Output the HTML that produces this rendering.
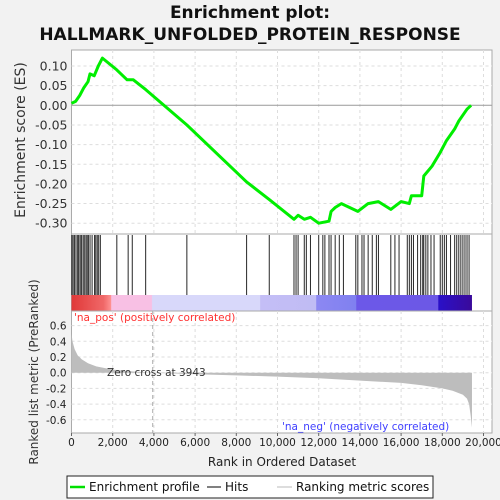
<!DOCTYPE html>
<html><head><meta charset="utf-8"><style>
body{margin:0;background:#f2f2f2;}
svg{display:block;font-family:"DejaVu Sans","Liberation Sans",sans-serif;}
</style></head><body>
<svg id="c" width="500" height="500" xmlns="http://www.w3.org/2000/svg">
<rect width="500" height="500" fill="#f2f2f2"/>
<text x="250" y="18" text-anchor="middle" font-size="17" font-weight="bold" fill="#111">Enrichment plot:</text>
<text x="250" y="40" text-anchor="middle" font-size="17" font-weight="bold" fill="#111">HALLMARK_UNFOLDED_PROTEIN_RESPONSE</text>
<g id="es-panel"></g>
<g id="hit-panel"></g>
<g id="metric-panel"></g>
<text x="25" y="140" transform="rotate(-90 25 140)" text-anchor="middle" font-size="14" fill="#333">Enrichment score (ES)</text>
<text x="38" y="372" transform="rotate(-90 38 372)" text-anchor="middle" font-size="12" fill="#333">Ranked list metric (PreRanked)</text>
<text x="282" y="466" text-anchor="middle" font-size="12" fill="#222">Rank in Ordered Dataset</text>
<g>
<rect x="67" y="476" width="366" height="22" fill="#fff" stroke="#222"/>
<line x1="70" y1="487" x2="85" y2="487" stroke="#00e000" stroke-width="2.5"/>
<text x="89" y="491" font-size="12" fill="#111">Enrichment profile</text>
<line x1="207" y1="487" x2="221" y2="487" stroke="#000"/>
<text x="225" y="491" font-size="12" fill="#111">Hits</text>
<line x1="277" y1="487" x2="292" y2="487" stroke="#bbb"/>
<text x="296" y="491" font-size="12" fill="#111">Ranking metric scores</text>
</g>
</svg>
<script>
const esRanks=[0,200,400,600,800,900,1100,1300,1500,2200,2700,3000,3600,5600,8500,9600,10800,11000,11300,11600,12000,12500,12600,12800,13100,13900,14400,14900,15500,16000,16400,16500,17000,17100,17500,17900,18200,18600,18800,19200,19400];
const esValues=[0.005,0.01,0.025,0.045,0.06,0.08,0.075,0.1,0.12,0.09,0.065,0.065,0.04,-0.05,-0.195,-0.24,-0.29,-0.28,-0.29,-0.285,-0.3,-0.295,-0.27,-0.26,-0.25,-0.27,-0.25,-0.245,-0.265,-0.245,-0.25,-0.23,-0.23,-0.18,-0.155,-0.12,-0.09,-0.06,-0.04,-0.01,0.0];
const hitRanks=[20,80,150,220,300,350,420,480,560,620,700,760,820,900,1000,1120,1180,1250,1320,1400,2200,2750,2950,3600,5600,8500,9600,10800,10900,11000,11300,11400,11600,12000,12200,12300,12500,12600,12800,13000,13200,13800,13900,14100,14200,14400,14600,14800,14900,15500,15700,15900,16300,16400,16500,16600,16800,16950,17050,17100,17200,17300,17450,17600,17900,18000,18100,18200,18400,18600,18700,18800,18900,19000,19100,19200,19300];
const metricRanks=[0,50,150,300,500,800,1200,2000,3000,3943,6000,8000,10000,12000,14000,16000,17000,18000,18500,19000,19200,19300,19380,19440];
const metricValues=[0.5,0.4,0.3,0.22,0.17,0.12,0.08,0.04,0.015,0,-0.02,-0.035,-0.05,-0.07,-0.1,-0.13,-0.16,-0.2,-0.23,-0.28,-0.33,-0.4,-0.55,-0.7];
const esTicks=[0.10,0.05,0.00,-0.05,-0.10,-0.15,-0.20,-0.25,-0.30];
const metricTicks=[0.6,0.4,0.2,0.0,-0.2,-0.4,-0.6];
const xTicks=[0,2000,4000,6000,8000,10000,12000,14000,16000,18000,20000];

const NS="http://www.w3.org/2000/svg";
const L=71.5,R=492;
const xs=r=>L+r*0.0206;
const yEs=v=>105.3-v*393;
const yM=v=>372.7-v*78.5;
function mk(parent,tag,attrs){const e=document.createElementNS(NS,tag);for(const k in attrs)e.setAttribute(k,attrs[k]);parent.appendChild(e);return e;}
const es=document.getElementById('es-panel'),hp=document.getElementById('hit-panel'),mp=document.getElementById('metric-panel');
mk(es,'rect',{x:L,y:50,width:R-L,height:184,fill:'#fff',stroke:'#aaa'});
mk(hp,'rect',{x:L,y:234,width:R-L,height:77,fill:'#fff',stroke:'#aaa'});
mk(mp,'rect',{x:L,y:311,width:R-L,height:122,fill:'#fff',stroke:'#aaa'});
xTicks.forEach(t=>{if(t>0){
 let g=mk(es,'line',{x1:xs(t),x2:xs(t),y1:50,y2:234,stroke:'#ddd','stroke-dasharray':'3,3'});
 
 let g2=mk(mp,'line',{x1:xs(t),x2:xs(t),y1:311,y2:433,stroke:'#ddd','stroke-dasharray':'3,3'});
 }
 const tx=mk(mp,'text',{x:xs(t),y:446,'text-anchor':'middle','font-size':'10.5',fill:'#222'});tx.textContent=t.toLocaleString('en-US');
 
 mk(mp,'line',{x1:xs(t),x2:xs(t),y1:433,y2:436,stroke:'#666'});
});
esTicks.forEach(t=>{
 const g=mk(es,'line',{x1:L,x2:R,y1:yEs(t),y2:yEs(t),stroke:t===0?'#999':'#ddd','stroke-dasharray':t===0?'':'3,3'});
 
 const tx=mk(es,'text',{x:L-4,y:yEs(t)+4.5,'text-anchor':'end','font-size':'12.5',fill:'#333'});tx.textContent=t.toFixed(2);
 
});
metricTicks.forEach(t=>{
 const g=mk(mp,'line',{x1:L,x2:R,y1:yM(t),y2:yM(t),stroke:'#ddd','stroke-dasharray':'3,3'});
 
 const tx=mk(mp,'text',{x:L-5,y:yM(t)+4,'text-anchor':'end','font-size':'10.5',fill:'#222'});tx.textContent=t.toFixed(1);
 
});
const pts=esRanks.map((r,i)=>xs(r).toFixed(1)+','+yEs(esValues[i]).toFixed(1)).join(' ');
const pl=mk(es,'polyline',{points:pts,fill:'none',stroke:'#00ee00','stroke-width':'3','stroke-linejoin':'round'});


hitRanks.forEach(r=>{
 const h=mk(hp,'line',{x1:xs(r),x2:xs(r),y1:235,y2:295,stroke:'#000','stroke-width':'1','stroke-opacity':'0.85'});
 
 
});
const defs=mk(hp,'defs',{});
const lg=mk(defs,'linearGradient',{id:'cb',x1:'0',x2:'1',y1:'0',y2:'0'});
[[0,'#e03838'],[0.08,'#f06868'],[0.098,'#ff9090'],[0.1,'#f8c0e4'],[0.2,'#f8c0e4'],[0.202,'#d8d8fa'],[0.47,'#d8d8fa'],[0.472,'#c4bef6'],[0.61,'#c0bcf4'],[0.612,'#8c88f2'],[0.71,'#8080f0'],[0.712,'#6c58e8'],[0.915,'#6c58e6'],[0.917,'#2a10c8'],[1,'#3a0a9a']].forEach(s=>mk(lg,'stop',{offset:s[0],'stop-color':s[1]}));
const cb=mk(hp,'rect',{x:L,y:295,width:xs(19440)-L,height:16,fill:'url(#cb)'});

let d='M'+xs(0)+','+yM(0);
metricRanks.forEach((r,i)=>{d+=' L'+xs(r).toFixed(1)+','+yM(metricValues[i]).toFixed(1);});
d+=' L'+xs(metricRanks[metricRanks.length-1])+','+yM(0)+'Z';
const ar=mk(mp,'path',{d:d,fill:'#bdbdbd'});

mk(mp,'line',{x1:xs(3943),x2:xs(3943),y1:311,y2:433,stroke:'#aaa','stroke-dasharray':'4,3'});
const zc=mk(mp,'text',{x:107,y:376,'font-size':'10.5',fill:'#333'});zc.textContent='Zero cross at 3943';

const pos=mk(mp,'text',{x:74,y:321,'font-size':'10.5',fill:'#ff3030'});pos.textContent="'na_pos' (positively correlated)";

const neg=mk(mp,'text',{x:282,y:430,'font-size':'10.5',fill:'#4040ff'});neg.textContent="'na_neg' (negatively correlated)";

</script>
</body></html>
